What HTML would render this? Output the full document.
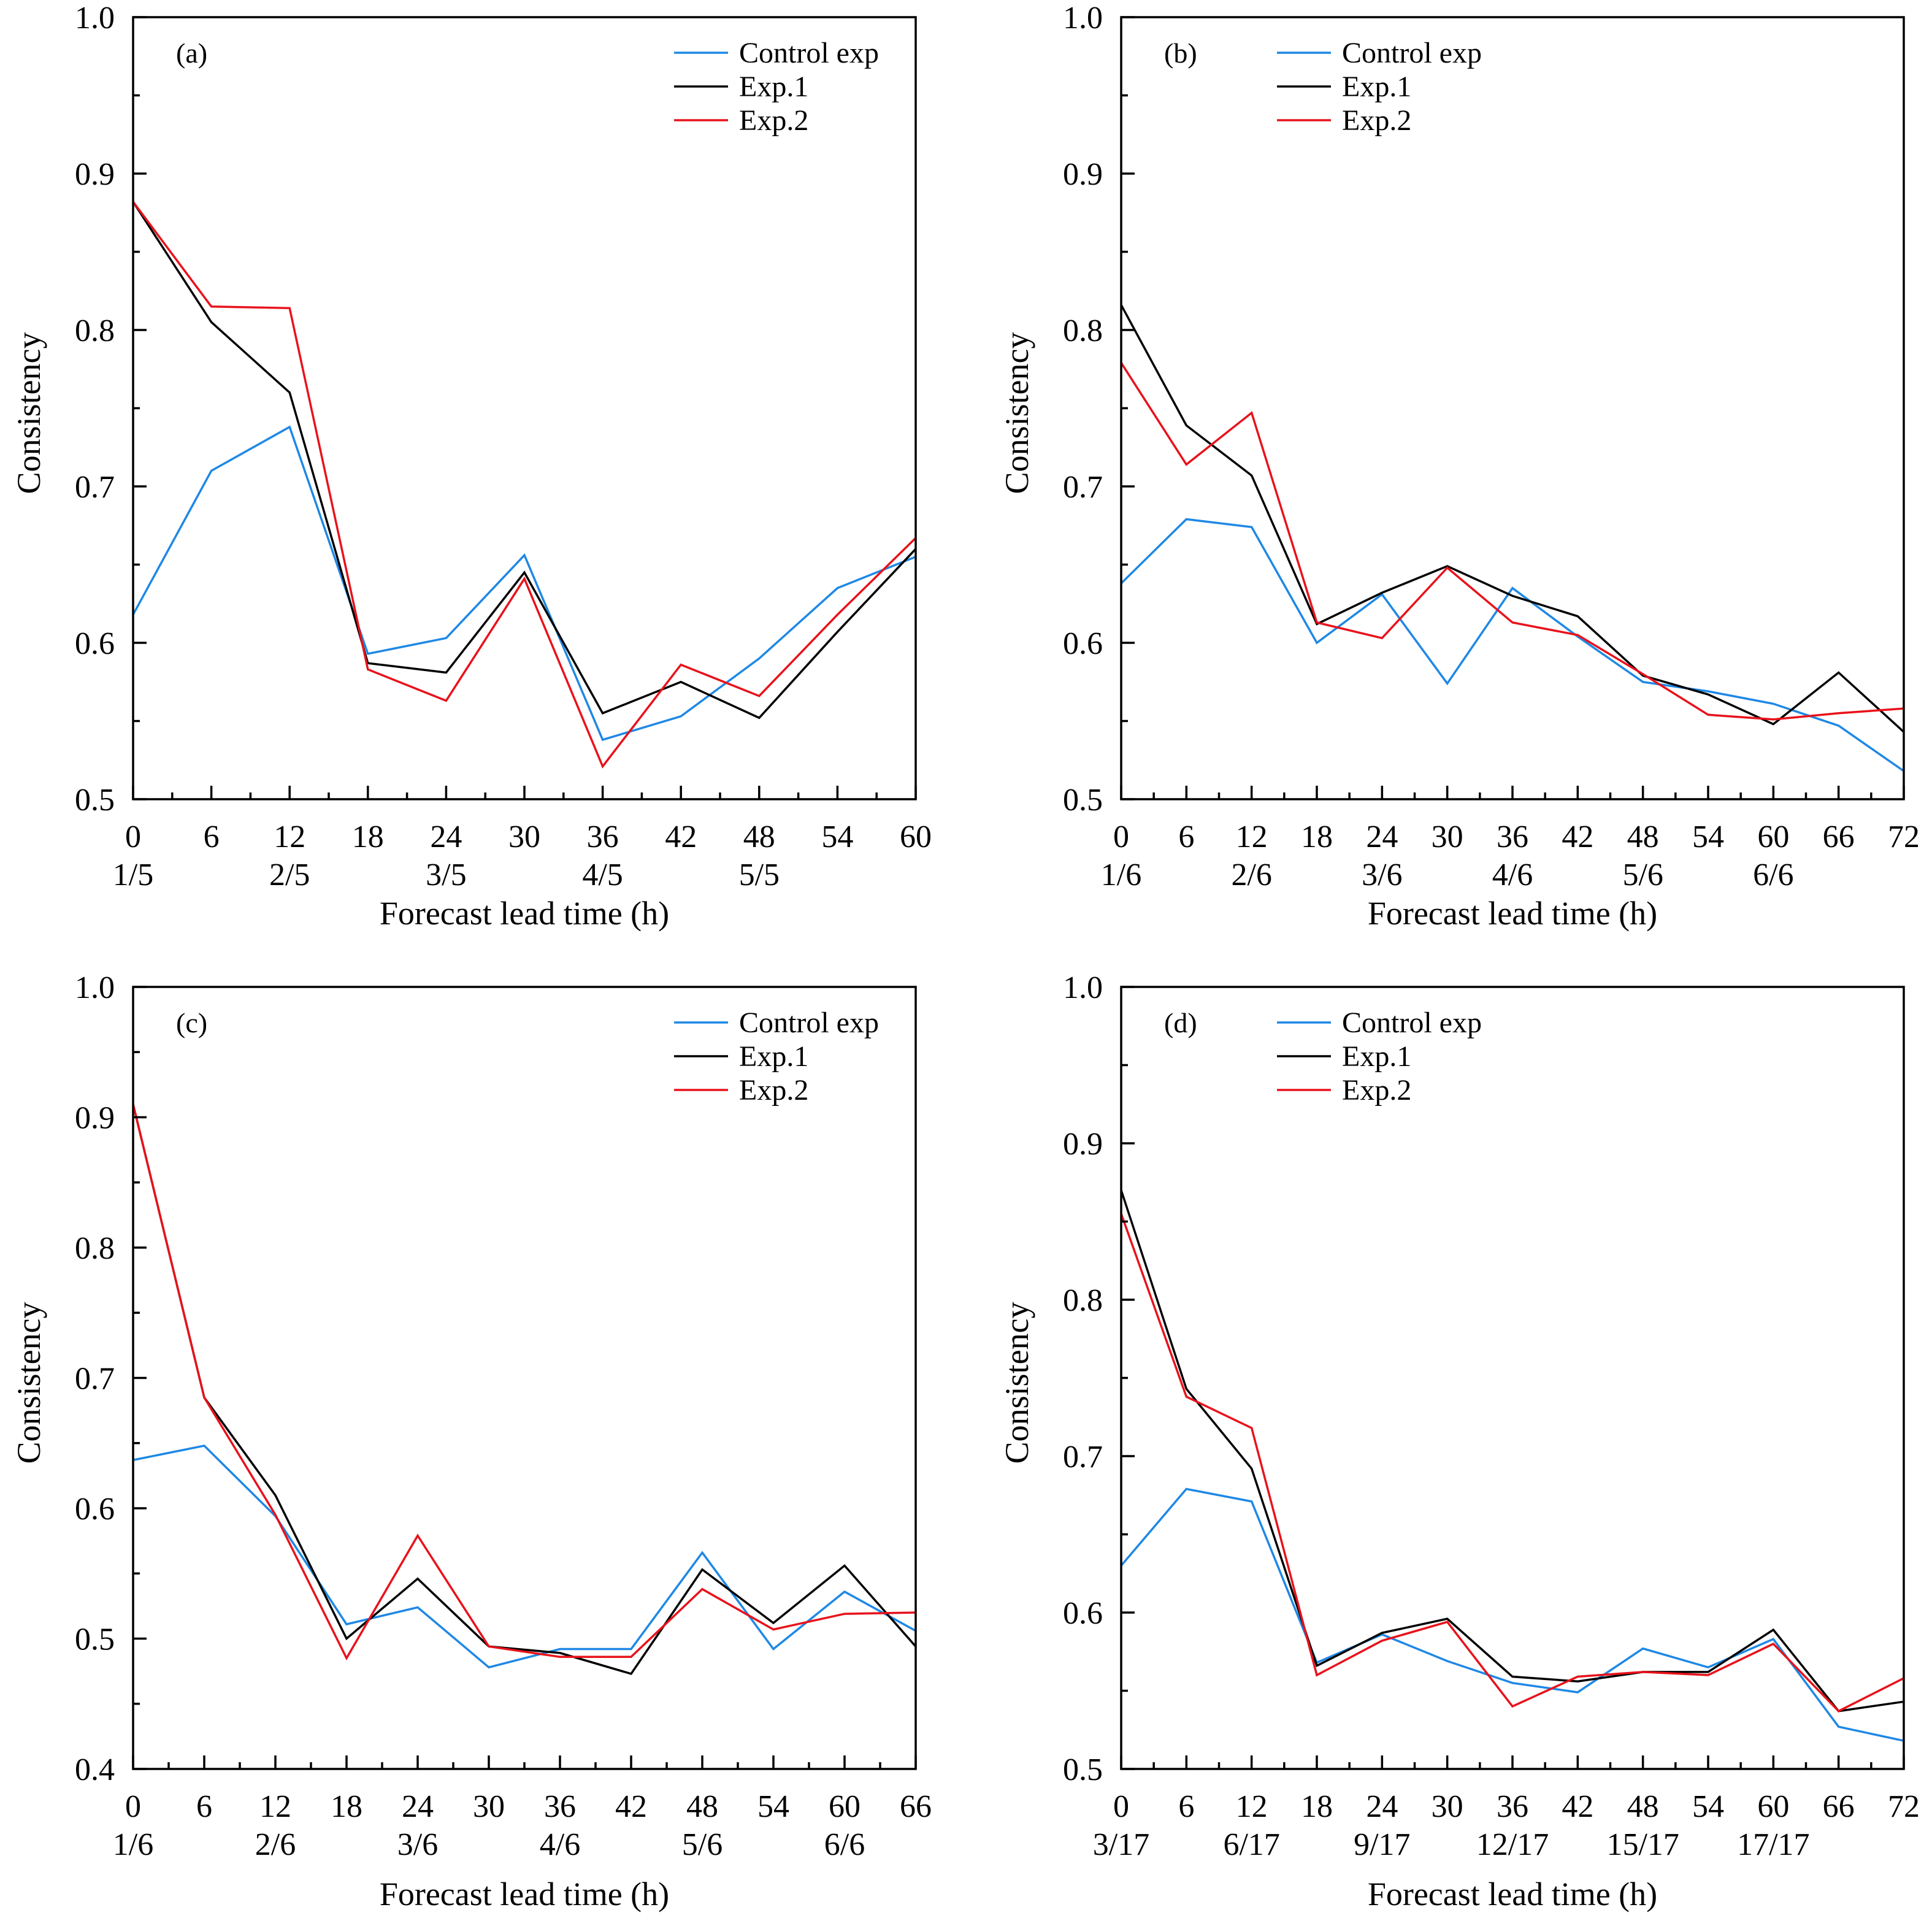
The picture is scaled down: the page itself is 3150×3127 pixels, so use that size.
<!DOCTYPE html>
<html><head><meta charset="utf-8"><style>
html,body{margin:0;padding:0;background:#fff}
svg{display:block}
text{font-family:"Liberation Serif","DejaVu Serif",serif;fill:#000}
</style></head><body>
<svg id="chart" width="3150" height="3127" viewBox="0 0 3150 3127" xmlns="http://www.w3.org/2000/svg" font-family="Liberation Serif, serif">
</svg>
<script>
// Panel (a)
const aHours = [0,6,12,18,24,30,36,42,48,54,60];
const aControl = [0.618,0.710,0.738,0.593,0.603,0.656,0.538,0.553,0.590,0.635,0.655];
const aExp1 = [0.882,0.805,0.760,0.587,0.581,0.645,0.555,0.575,0.552,0.607,0.660];
const aExp2 = [0.882,0.815,0.814,0.583,0.563,0.641,0.521,0.586,0.566,0.618,0.667];
const aDates = ["1/5","","2/5","","3/5","","4/5","","5/5","",""];
// Panel (b)
const bHours = [0,6,12,18,24,30,36,42,48,54,60,66,72];
const bControl = [0.638,0.679,0.674,0.600,0.631,0.574,0.635,0.604,0.575,0.569,0.561,0.547,0.518];
const bExp1 = [0.816,0.739,0.707,0.612,0.632,0.649,0.630,0.617,0.579,0.567,0.548,0.581,0.543];
const bExp2 = [0.779,0.714,0.747,0.613,0.603,0.648,0.613,0.605,0.580,0.554,0.551,0.555,0.558];
const bDates = ["1/6","","2/6","","3/6","","4/6","","5/6","","6/6","",""];
// Panel (c)
const cHours = [0,6,12,18,24,30,36,42,48,54,60,66];
const cControl = [0.637,0.648,0.594,0.511,0.524,0.478,0.492,0.492,0.566,0.492,0.536,0.506];
const cExp1 = [0.910,0.685,0.610,0.500,0.546,0.494,0.489,0.473,0.553,0.512,0.556,0.494];
const cExp2 = [0.910,0.685,0.595,0.485,0.579,0.494,0.486,0.486,0.538,0.507,0.519,0.520];
const cDates = ["1/6","","2/6","","3/6","","4/6","","5/6","","6/6",""];
// Panel (d)
const dHours = [0,6,12,18,24,30,36,42,48,54,60,66,72];
const dControl = [0.630,0.679,0.671,0.568,0.586,0.569,0.555,0.549,0.577,0.565,0.583,0.527,0.518];
const dExp1 = [0.870,0.743,0.692,0.566,0.587,0.596,0.559,0.556,0.562,0.562,0.589,0.537,0.543];
const dExp2 = [0.855,0.738,0.718,0.560,0.582,0.594,0.540,0.559,0.562,0.560,0.580,0.537,0.558];
const dDates = ["3/17","","6/17","","9/17","","12/17","","15/17","","17/17","",""];

const yTicksA = ["0.5","0.6","0.7","0.8","0.9","1.0"];
const yTicksC = ["0.4","0.5","0.6","0.7","0.8","0.9","1.0"];
const seriesNames = ["Control exp","Exp.1","Exp.2"];
const COLORS = ["#1e88e5","#000000","#e8121b"];
const FONT = "'Liberation Serif', 'DejaVu Serif', serif";

const NS = "http://www.w3.org/2000/svg";
const svg = document.getElementById("chart");
function mk(tag, parent, attrs){
  const e = document.createElementNS(NS, tag);
  for (const k in attrs) e.setAttribute(k, attrs[k]);
  if (tag === "text") e.setAttribute("font-family", FONT);
  parent.appendChild(e); return e;
}

function panel(id, ox, oy, hours, dates, series, yMin, yTicks, legOff, titleDy){
  const L = ox, T = oy, W = 1276, H = 1275;
  const xMax = hours[hours.length-1];
  const yMax = 1.0;
  const sx = h => L + h / xMax * W;
  const sy = v => T + H - (v - yMin) / (yMax - yMin) * H;
  const g = mk("g", svg, {});
  
  

  series.forEach((vals, si) => {
    const pts = vals.map((v, i) => sx(hours[i]).toFixed(1) + "," + sy(v).toFixed(1)).join(" ");
    const pl = mk("polyline", g, {points: pts, fill: "none", stroke: COLORS[si], "stroke-width": 3.5});
    
    
  });

  const fr = mk("rect", g, {x: L, y: T, width: W, height: H, fill: "none", stroke: "#000", "stroke-width": 3.5});
  
  

  for (let h = 0; h <= xMax; h += 3) {
    const len = (h % 6 === 0) ? 22 : 11;
    mk("line", g, {x1: sx(h), x2: sx(h), y1: T + H, y2: T + H - len, stroke: "#000", "stroke-width": 3.5});
  }
  hours.forEach((h, i) => {
    const t = mk("text", g, {x: sx(h), y: T + H + 78, "font-size": 52, "text-anchor": "middle"});
    t.textContent = String(h);
    
    
    if (dates[i]) {
      const d = mk("text", g, {x: sx(h), y: T + H + 140, "font-size": 52, "text-anchor": "middle"});
      d.textContent = dates[i];
      
      
    }
  });
  const nSteps = (yTicks.length - 1) * 2;
  for (let k = 0; k <= nSteps; k++) {
    const v = yMin + k * 0.05;
    const len = (k % 2 === 0) ? 22 : 11;
    mk("line", g, {x1: L, x2: L + len, y1: sy(v), y2: sy(v), stroke: "#000", "stroke-width": 3.5});
  }
  yTicks.forEach(lbl => {
    const t = mk("text", g, {x: L - 30, y: sy(parseFloat(lbl)) + 18, "font-size": 52, "text-anchor": "end"});
    t.textContent = lbl;
    
    
  });
  const xt = mk("text", g, {x: L + W / 2, y: T + H + titleDy, "font-size": 54, "text-anchor": "middle"});
  xt.textContent = "Forecast lead time (h)";
  
  
  const yx = L - 152, yy = T + H / 2 + 8;
  const yt = mk("text", g, {x: yx, y: yy, "font-size": 54, "text-anchor": "middle", transform: "rotate(-90 " + yx + " " + yy + ")"});
  yt.textContent = "Consistency";
  
  
  const pl = mk("text", g, {x: L + 70, y: T + 74, "font-size": 46});
  pl.textContent = "(" + id + ")";
  
  
  seriesNames.forEach((n, si) => {
    const ly = T + 58 + si * 55;
    const ln = mk("line", g, {x1: L + legOff, x2: L + legOff + 88, y1: ly, y2: ly, stroke: COLORS[si], "stroke-width": 3.5});
    
    
    const lt = mk("text", g, {x: L + legOff + 106, y: ly + 16, "font-size": 48});
    lt.textContent = n;
    
    
  });
}

panel("a", 217, 28, aHours, aDates, [aControl, aExp1, aExp2], 0.5, yTicksA, 882, 204);
panel("b", 1828, 28, bHours, bDates, [bControl, bExp1, bExp2], 0.5, yTicksA, 254, 204);
panel("c", 217, 1609, cHours, cDates, [cControl, cExp1, cExp2], 0.4, yTicksC, 882, 222);
panel("d", 1828, 1609, dHours, dDates, [dControl, dExp1, dExp2], 0.5, yTicksA, 254, 222);
</script>
</body></html>
